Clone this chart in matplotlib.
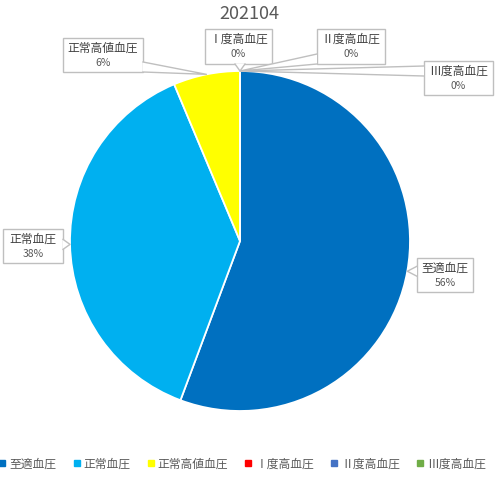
import matplotlib
matplotlib.use('Agg')
import matplotlib.pyplot as plt
from matplotlib.patches import Rectangle, Polygon
from matplotlib.lines import Line2D
import numpy as np

plt.rcParams['font.family'] = ['Noto Sans CJK JP', 'DejaVu Sans']

# data
labels = ['至適血圧', '正常血圧', '正常高値血圧', 'Ⅰ度高血圧', 'Ⅱ度高血圧', 'Ⅲ度高血圧']
values = [88, 60, 10, 0, 0, 0]
colors = ['#0070C0', '#00B0F0', '#FFFF00', '#FF0000', '#4472C4', '#70AD47']
title = '202104'

# label boxes in pixels (x0, y0, x1, y1) and side the pointer leaves from
boxes = [(417, 258, 473, 292, 'left'),
         (3, 229, 63, 263, 'right'),
         (63, 38, 143, 72, 'right'),
         (205, 29, 272, 64, 'bottom'),
         (317, 29, 385, 64, 'left'),
         (424, 61, 493, 95, 'left')]

W, H = 498, 479
CX, CY, R = 240, 241, 170
GREY = '#BFBFBF'

fig = plt.figure(figsize=(W / 100, H / 100), dpi=100)
ax = fig.add_axes([0, 0, 1, 1])


def px(x, y):
    return ((x - CX) / R, (CY - y) / R)


wedges, _ = ax.pie(values, colors=colors, startangle=90, counterclock=False,
                   radius=1, wedgeprops=dict(edgecolor='white', linewidth=1.3))
ax.set_aspect('auto')
ax.set_xlim(-CX / R, (W - CX) / R)
ax.set_ylim((CY - H) / R, CY / R)
ax.axis('off')

total = sum(values)
for w, name, v, (x0, y0, x1, y1, side) in zip(wedges, labels, values, boxes):
    th = np.deg2rad((w.theta1 + w.theta2) / 2)
    tx, ty = CX + R * np.cos(th), CY - R * np.sin(th)
    if side in ('left', 'right'):
        ex = x0 if side == 'left' else x1
        a = min(max(ty - 5, y0), y1 - 10)
        p1, p2 = (ex, a), (ex, a + 10)
    else:
        a = min(max(tx - 5, x0), x1 - 10)
        p1, p2 = (a, y1), (a + 10, y1)
    ax.add_patch(Rectangle(px(x0, y1), (x1 - x0) / R, (y1 - y0) / R,
                           facecolor='white', edgecolor=GREY, lw=1, zorder=5))
    ax.add_patch(Polygon([px(*p1), px(tx, ty), px(*p2)], closed=True,
                         facecolor='white', edgecolor='none', zorder=6))
    ax.add_line(Line2D(*zip(px(*p1), px(tx, ty), px(*p2)), color=GREY, lw=1, zorder=7))
    cx = (x0 + x1) / 2
    ax.text(*px(cx, y0 + 10), name, ha='center', va='center', fontsize=8.5,
            color='#404040', zorder=8)
    ax.text(*px(cx, y0 + 25), f'{round(v / total * 100)}%', ha='center',
            va='center', fontsize=7.5, color='#595959', zorder=8)

fig.text(0.5, 1 - 14 / H, title, ha='center', va='center', fontsize=13, color='#595959')

handles = [Line2D([], [], marker='s', ls='', color=c, markersize=4.5) for c in colors]
fig.legend(handles, labels, loc='center', bbox_to_anchor=(0.487, 1 - 464 / H), ncol=6,
           frameon=False, fontsize=8.5, handlelength=0.6, handletextpad=0.3,
           columnspacing=1.4, labelcolor='#595959')

fig.savefig('out.png', dpi=100)
